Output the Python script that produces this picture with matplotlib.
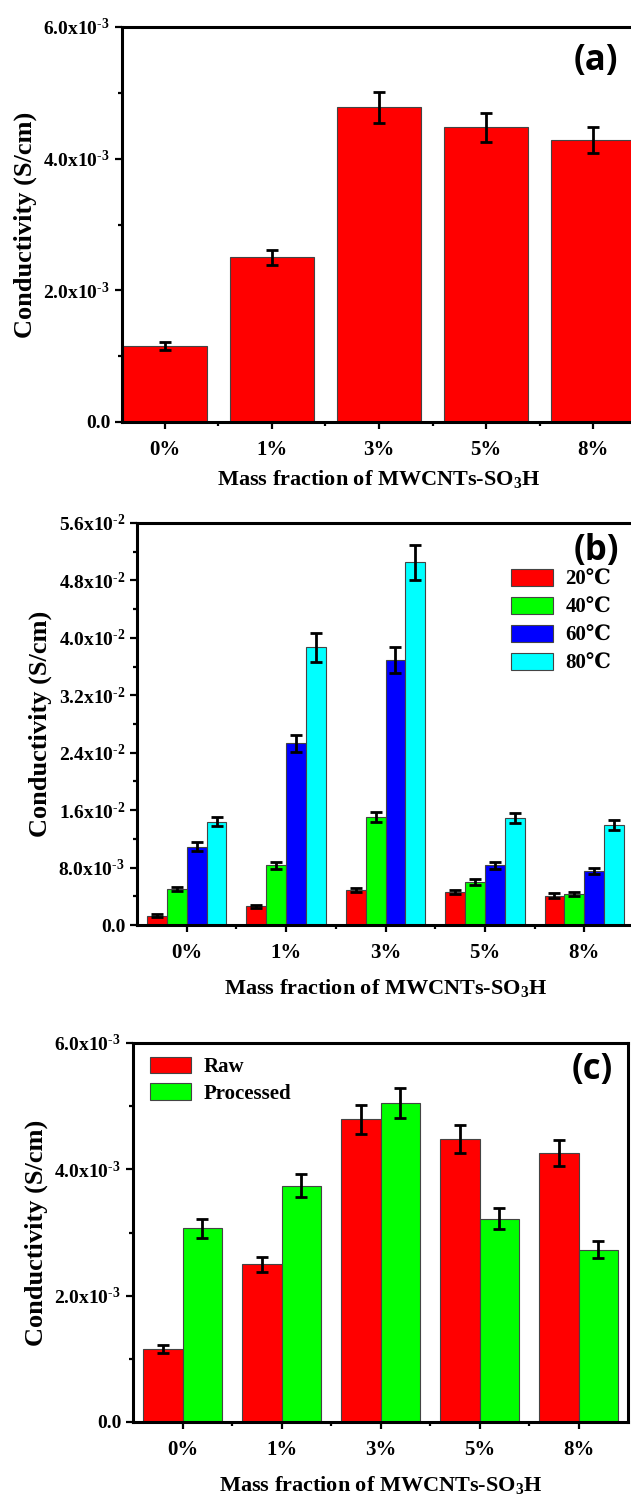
import matplotlib
matplotlib.use("Agg")
from matplotlib import pyplot as plt
from matplotlib.ticker import FuncFormatter, MultipleLocator
import numpy as np

# данные
fractions = ["0%", "1%", "3%", "5%", "8%"]

# (a) проводимость исходных мембран
cond_a = [1.15e-3, 2.50e-3, 4.78e-3, 4.48e-3, 4.28e-3]
err_a = [0.06e-3, 0.12e-3, 0.24e-3, 0.22e-3, 0.20e-3]

# (b) проводимость при разных температурах
temps = ["20℃", "40℃", "60℃", "80℃"]
cond_b = {
    "20℃": [1.3e-3, 2.6e-3, 4.9e-3, 4.6e-3, 4.1e-3],
    "40℃": [5.0e-3, 8.3e-3, 15.0e-3, 6.0e-3, 4.3e-3],
    "60℃": [10.9e-3, 25.3e-3, 36.9e-3, 8.3e-3, 7.5e-3],
    "80℃": [14.4e-3, 38.7e-3, 50.5e-3, 14.9e-3, 13.9e-3],
}
err_b = {
    "20℃": [0.2e-3, 0.2e-3, 0.3e-3, 0.3e-3, 0.3e-3],
    "40℃": [0.3e-3, 0.5e-3, 0.7e-3, 0.4e-3, 0.3e-3],
    "60℃": [0.6e-3, 1.2e-3, 1.8e-3, 0.5e-3, 0.4e-3],
    "80℃": [0.6e-3, 2.0e-3, 2.4e-3, 0.7e-3, 0.7e-3],
}

# (c) исходные и обработанные
cond_raw = [1.16e-3, 2.50e-3, 4.79e-3, 4.48e-3, 4.26e-3]
err_raw = [0.06e-3, 0.12e-3, 0.23e-3, 0.22e-3, 0.21e-3]
cond_proc = [3.07e-3, 3.74e-3, 5.05e-3, 3.22e-3, 2.73e-3]
err_proc = [0.15e-3, 0.18e-3, 0.24e-3, 0.17e-3, 0.14e-3]

colors_b = ["#ff0000", "#00ff00", "#0000ff", "#00ffff"]

plt.rcParams["font.family"] = ["Liberation Serif", "DejaVu Serif"]
plt.rcParams["font.weight"] = "bold"
plt.rcParams["mathtext.fontset"] = "custom"
plt.rcParams["mathtext.rm"] = "Liberation Serif:bold"
plt.rcParams["mathtext.bf"] = "Liberation Serif:bold"
plt.rcParams["mathtext.it"] = "Liberation Serif:bold"


def sci(v, pos):
    if abs(v) < 1e-12:
        return "0.0"
    e = int(np.floor(np.log10(abs(v)) + 1e-9))
    m = v / 10 ** e
    return rf"{m:.1f}x10$^{{‐{abs(e)}}}$"


W, H = 631, 1497
fig = plt.figure(figsize=(W / 100, H / 100), dpi=100)


def make_ax(l, r, t, b):
    return fig.add_axes([l / W, 1 - b / H, (r - l) / W, (b - t) / H])


def style(ax, ymax, ystep, xlim, panel, ppos, lpad):
    x = np.arange(len(fractions))
    ax.set_xlim(*xlim)
    ax.set_ylim(0, ymax)
    ax.set_xticks(x)
    ax.set_xticklabels(fractions)
    ax.set_xticks(x[:-1] + 0.5, minor=True)
    ax.yaxis.set_major_locator(MultipleLocator(ystep))
    ax.yaxis.set_minor_locator(MultipleLocator(ystep / 2))
    ax.yaxis.set_major_formatter(FuncFormatter(sci))
    for s in ax.spines.values():
        s.set_linewidth(2.2)
    ax.tick_params(which="both", direction="out", width=1.6)
    ax.tick_params(which="major", length=5, labelsize=14)
    ax.tick_params(which="minor", length=3)
    ax.tick_params(axis="x", which="major", pad=8, labelsize=15)
    ax.set_ylabel("Conductivity (S/cm)", fontsize=19, fontweight="bold",
                  labelpad=5)
    ax.set_xlabel("Mass fraction of MWCNTs-SO$_3$H", fontsize=16,
                  fontweight="bold", labelpad=lpad)
    ax.text(ppos[0], ppos[1], panel, transform=ax.transAxes, fontsize=25,
            fontweight="bold", family="Open Sans", ha="right", va="center")


ekw = dict(elinewidth=2, capsize=4, capthick=2, ecolor="black")
edge = "#444444"

# (a)
ax1 = make_ax(122, 636, 27, 422)
x = np.arange(len(fractions))
ax1.bar(x, cond_a, 0.78, yerr=err_a, color="#ff0000", edgecolor=edge,
        linewidth=0.8, error_kw=ekw)
style(ax1, 6e-3, 2e-3, (-0.4, 4.4), "(a)", (0.965, 0.915), 6)

# (b)
ax2 = make_ax(137, 634, 523, 925)
w = 0.2
for i, t in enumerate(temps):
    ax2.bar(x + (i - 1.5) * w, cond_b[t], w, yerr=err_b[t], color=colors_b[i],
            edgecolor=edge, linewidth=0.8, error_kw=ekw, label=t)
style(ax2, 5.6e-2, 8e-3, (-0.5, 4.5), "(b)", (0.97, 0.93), 10)
ax2.legend(loc="upper left", bbox_to_anchor=(0.745, 0.895), frameon=False,
           fontsize=15, handlelength=2.0, handleheight=0.85, labelspacing=0.36,
           handletextpad=0.6, borderaxespad=0, borderpad=0.2)

# (c)
ax3 = make_ax(133, 628, 1043, 1422)
w = 0.4
ax3.bar(x - w / 2, cond_raw, w, yerr=err_raw, color="#ff0000", edgecolor=edge,
        linewidth=0.8, error_kw=ekw, label="Raw")
ax3.bar(x + w / 2, cond_proc, w, yerr=err_proc, color="#00ff00", edgecolor=edge,
        linewidth=0.8, error_kw=ekw, label="Processed")
style(ax3, 6e-3, 2e-3, (-0.5, 4.5), "(c)", (0.97, 0.93), 10)
ax3.legend(loc="upper left", bbox_to_anchor=(0.025, 0.975), frameon=False,
           fontsize=15, handlelength=2.0, handleheight=0.85, labelspacing=0.3,
           handletextpad=0.6, borderaxespad=0, borderpad=0.2)

fig.savefig("out.png", dpi=100)
